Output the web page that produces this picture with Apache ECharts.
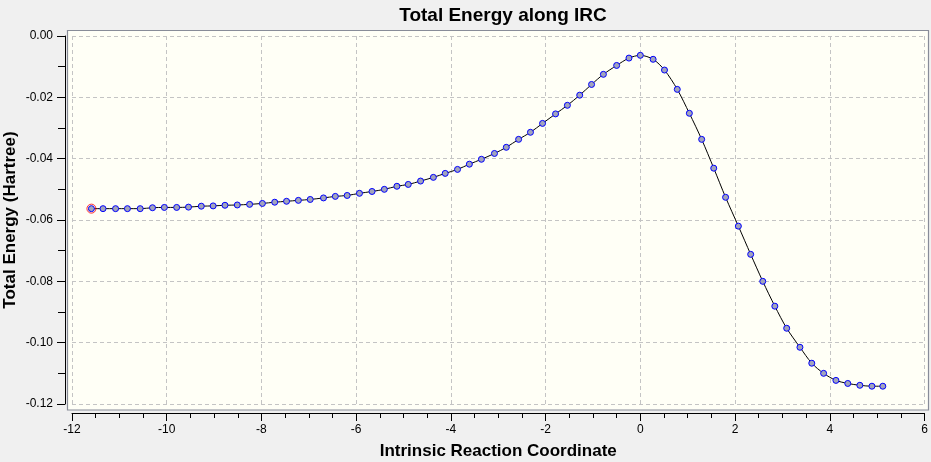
<!DOCTYPE html>
<html><head><meta charset="utf-8">
<script src="https://cdn.jsdelivr.net/npm/echarts@6/dist/echarts.min.js"></script>
<style>html,body{margin:0;padding:0;background:#f0f0f0}#c{width:931px;height:462px}</style>
</head><body><div id="c"></div>
<script>
const chartTitle = 'Total Energy along IRC';
const xName = 'Intrinsic Reaction Coordinate';
const yName = 'Total Energy (Hartree)';
const ircX = [-11.59,-11.345,-11.08,-10.83,-10.56,-10.30,-10.05,-9.79,-9.54,-9.27,-9.02,-8.77,-8.51,-8.25,-7.98,-7.72,-7.47,-7.22,-6.97,-6.69,-6.44,-6.19,-5.93,-5.665,-5.405,-5.14,-4.90,-4.64,-4.37,-4.12,-3.86,-3.61,-3.355,-3.08,-2.83,-2.57,-2.32,-2.065,-1.79,-1.54,-1.28,-1.03,-0.78,-0.50,-0.24,0.0,0.27,0.51,0.78,1.035,1.295,1.55,1.80,2.07,2.33,2.585,2.84,3.09,3.37,3.62,3.87,4.13,4.38,4.635,4.89,5.12];
const energy = [-0.0563,-0.0563,-0.0563,-0.0563,-0.0563,-0.0560,-0.0559,-0.0559,-0.0558,-0.0555,-0.0554,-0.0552,-0.0551,-0.0549,-0.0546,-0.0542,-0.0539,-0.0536,-0.0533,-0.0528,-0.0523,-0.0520,-0.0513,-0.0507,-0.0500,-0.0490,-0.0484,-0.0473,-0.0461,-0.0448,-0.0435,-0.0418,-0.0402,-0.0383,-0.0363,-0.0337,-0.0314,-0.0285,-0.0254,-0.0226,-0.0193,-0.0158,-0.0125,-0.0096,-0.0072,-0.0063,-0.0076,-0.0111,-0.0174,-0.0252,-0.0337,-0.0431,-0.0526,-0.0620,-0.0712,-0.0800,-0.0881,-0.0953,-0.1015,-0.1067,-0.1100,-0.1123,-0.1133,-0.1139,-0.1142,-0.1142];
const currentIndex = 0;

const pts = ircX.map((x, i) => [x, energy[i]]);
const chart = echarts.init(document.getElementById('c'));
const font = 'Arial, "Liberation Sans", sans-serif';
chart.setOption({
  backgroundColor: '#f0f0f0',
  animation: false,
  title: {
    text: chartTitle, left: 498, top: 1, textAlign: 'center',
    textStyle: {fontFamily: font, fontSize: 19, fontWeight: 'bold', color: '#000'}
  },
  graphic: [{
    type: 'rect', z: -10, silent: true,
    shape: {x: 67.5, y: 30.5, width: 861, height: 379.5},
    style: {fill: '#fffff6', stroke: '#888c98', lineWidth: 1.2}
  }],
  grid: {left: 72, right: 6.5, top: 36, bottom: 58, containLabel: false, outerBoundsMode: 'none'},
  xAxis: {
    type: 'value', min: -12, max: 6, interval: 2, offset: 9,
    name: xName, nameLocation: 'middle', nameGap: 30, nameMoveOverlap: false,
    nameTextStyle: {fontFamily: font, fontSize: 17, fontWeight: 'bold', color: '#000'},
    axisLine: {show: true, onZero: false, lineStyle: {color: '#000', width: 1}},
    axisTick: {show: true, length: 8, lineStyle: {color: '#000'}},
    minorTick: {show: true, splitNumber: 4, length: 5, lineStyle: {color: '#000'}},
    axisLabel: {fontFamily: font, fontSize: 12, color: '#000', margin: 11},
    splitLine: {show: true, lineStyle: {color: '#c4c4c4', type: [4, 3], width: 1}}
  },
  yAxis: {
    type: 'value', min: -0.12, max: 0, interval: 0.02, offset: 7,
    name: yName, nameLocation: 'middle', nameGap: 46, nameMoveOverlap: false,
    nameTextStyle: {fontFamily: font, fontSize: 17, fontWeight: 'bold', color: '#000'},
    axisLine: {show: true, onZero: false, lineStyle: {color: '#000', width: 1}},
    axisTick: {show: true, length: 8, lineStyle: {color: '#000'}},
    minorTick: {show: true, splitNumber: 2, length: 7, lineStyle: {color: '#000'}},
    axisLabel: {fontFamily: font, fontSize: 12, color: '#000', margin: 12,
      formatter: v => v.toFixed(2)},
    splitLine: {show: true, lineStyle: {color: '#c4c4c4', type: [4, 3], width: 1}}
  },
  series: [{
    type: 'line', data: pts, smooth: 0.3,
    lineStyle: {color: '#000', width: 1},
    symbol: 'circle', symbolSize: 6,
    itemStyle: {color: '#a2a4bc', borderColor: '#0000ff', borderWidth: 1}
  }, {
    type: 'scatter', data: [pts[currentIndex]], symbol: 'circle', symbolSize: 9, z: 5,
    itemStyle: {color: 'rgba(0,0,0,0)', borderColor: '#ff0000', borderWidth: 1}
  }]
});
</script></body></html>
